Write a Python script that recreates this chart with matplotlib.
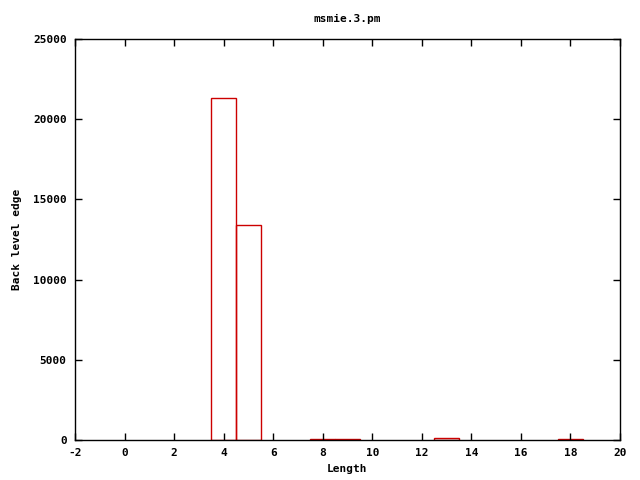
import matplotlib
matplotlib.use("Agg")
import matplotlib.pyplot as plt

# histogram of lengths
lengths = [4, 5, 8, 9, 13, 18]
counts = [21350, 13380, 40, 40, 110, 50]

plt.rcParams['font.family'] = 'DejaVu Sans Mono'
plt.rcParams['font.weight'] = 'bold'
plt.rcParams['font.size'] = 8
plt.rcParams['axes.unicode_minus'] = False

fig = plt.figure(figsize=(6.4, 4.8), dpi=100)
ax = fig.add_axes([75 / 640, 40 / 480, 545 / 640, 401 / 480])

ax.bar(lengths, counts, width=1.0, fill=False, edgecolor='#cc0000', linewidth=1.0)

ax.set_xlim(-2, 20)
ax.set_ylim(0, 25000)
ax.set_xticks(range(-2, 21, 2))
ax.set_yticks(range(0, 25001, 5000))
ax.tick_params(direction='in', top=True, right=True, length=5, width=1, pad=6)
for s in ax.spines.values():
    s.set_linewidth(1)

ax.set_title('msmie.3.pm', fontsize=8, fontweight='bold', pad=12)
ax.set_xlabel('Length', fontweight='bold')
ax.set_ylabel('Back level edge', fontweight='bold', labelpad=8)

fig.savefig('out.png', dpi=100)
